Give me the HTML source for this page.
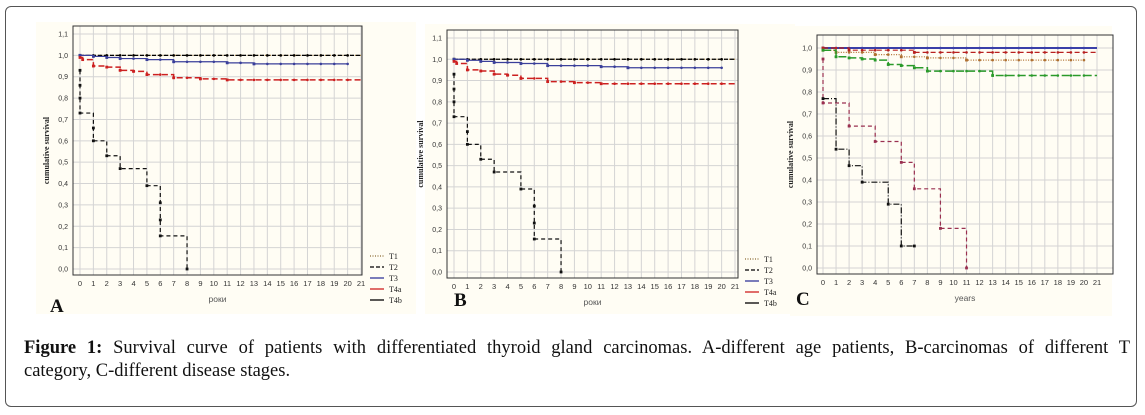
<!DOCTYPE html>
<html><head><meta charset="utf-8"><style>
body{margin:0;background:#fff;width:1145px;height:415px;overflow:hidden;font-family:"Liberation Serif",serif}
#frame{position:absolute;left:5px;top:6px;width:1132px;height:401px;border:1.5px solid #555;border-radius:6px;box-sizing:border-box}
#cap{position:absolute;left:24px;top:337px;width:1106px;font-size:18.5px;line-height:23px;color:#111}
#cap .l1{display:block;text-align:justify;text-align-last:justify;white-space:nowrap}
svg{position:absolute;left:0;top:0}
</style></head><body>
<div id="frame"></div>
<svg id="s" width="1145" height="415"></svg>
<div id="cap"><span class="l1"><b>Figure 1:</b> Survival curve of patients with differentiated thyroid gland carcinomas. A-different age patients, B-carcinomas of different T</span>category, C-different disease stages.</div>
<script>
// ----- data -----
const xTicks=[0,1,2,3,4,5,6,7,8,9,10,11,12,13,14,15,16,17,18,19,20,21];
const yTicksAB=["0,0","0,1","0,2","0,3","0,4","0,5","0,6","0,7","0,8","0,9","1,0","1,1"];
const yTicksC=["0,0","0,1","0,2","0,3","0,4","0,5","0,6","0,7","0,8","0,9","1,0"];
const legendLabels=["T1","T2","T3","T4a","T4b"];
// step series: times and survival
const abT1t=[0,21],abT1v=[1,1];
const abT2t=[0,21],abT2v=[1,1];
const abT3t=[0,1,2,3,5,7,11,13,20],abT3v=[1,0.995,0.99,0.985,0.98,0.97,0.965,0.96,0.96];
const abT4at=[0,0.2,1,2,3,4,5,7,9,11,21],abT4av=[0.99,0.98,0.95,0.945,0.93,0.925,0.91,0.895,0.89,0.885,0.885];
const abT4bt=[0,0,0,0,1,1,2,3,5,6,6,6,8],abT4bv=[0.93,0.86,0.8,0.73,0.66,0.6,0.53,0.47,0.39,0.31,0.23,0.155,0];
const cBlueT=[0,21],cBlueV=[1,1];
const cRedT=[0,2,7,21],cRedV=[1,0.99,0.98,0.975];
const cOrT=[0,1,4,6,8,11,20],cOrV=[0.99,0.98,0.97,0.96,0.955,0.945,0.945];
const cGrT=[0,1,2,3,4,5,6,7,8,13,21],cGrV=[0.99,0.96,0.955,0.95,0.945,0.925,0.92,0.91,0.895,0.875,0.875];
const cPuT=[0,0,2,4,6,7,9,11],cPuV=[0.95,0.75,0.645,0.575,0.48,0.36,0.18,0];
const cBkT=[0,1,2,3,5,6,7],cBkV=[0.77,0.54,0.465,0.39,0.29,0.1,0.1];

const NS="http://www.w3.org/2000/svg",S=document.getElementById('s');
function el(t,a,p){const e=document.createElementNS(NS,t);for(const k in a)e.setAttribute(k,a[k]);(p||S).appendChild(e);return e;}

function panel(P){
 const g=el('g',{});
 
 
 el('rect',{x:P.bx,y:P.by,width:P.bw,height:P.bh,fill:'#fffdf4'},g);
 const X=v=>P.x0+(P.x21-P.x0)*v/21, Y=v=>P.y0-(P.y0-P.y1)*v/P.ymaxTick;
 xTicks.forEach(t=>{el('line',{x1:X(t),x2:X(t),y1:P.top,y2:P.bot,stroke:'#d4d4d4','stroke-width':1},g);
  const tx=el('text',{x:X(t),y:P.bot+11,'font-size':7.5,'text-anchor':'middle','font-family':'Liberation Sans',fill:'#333'},g);tx.textContent=t;
  });
 P.yt.forEach((l,i)=>{const v=i*0.1;el('line',{x1:P.left,x2:P.right,y1:Y(v),y2:Y(v),stroke:'#d4d4d4'},g);
  const tx=el('text',{x:P.left-5,y:Y(v)+2.5,'font-size':7,'text-anchor':'end','font-family':'Liberation Sans',fill:'#333'},g);tx.textContent=l;
  });
 el('rect',{x:P.left,y:P.top,width:P.right-P.left,height:P.bot-P.top,fill:'none',stroke:'#333','stroke-width':1},g);
 const yl=el('text',{transform:`translate(${P.left-24},${(P.top+P.bot)/2}) rotate(-90)`,'font-size':8,'font-weight':'bold','text-anchor':'middle',fill:'#222'},g);
 yl.textContent='cumulative survival';
 const xl=el('text',{x:(P.left+P.right)/2,y:P.bot+27,'font-size':8.5,'text-anchor':'middle','font-family':'Liberation Sans',fill:'#555'},g);
 xl.textContent=P.xlab;
 const pl=el('text',{x:P.lx,y:P.ly,'font-size':19,'font-weight':'bold',fill:'#111'},g);
 pl.textContent=P.letter;
 P.series.forEach(s=>{
  let d='M'+X(s.t[0])+' '+Y(s.v[0]);
  for(let i=1;i<s.t.length;i++){d+=' H'+X(s.t[i])+' V'+Y(s.v[i]);}
  const p=el('path',{d:d,fill:'none',stroke:s.c,'stroke-width':s.w||1.2,'stroke-dasharray':s.dash||'none'},g);
  
  const n=s.mk?s.t.length-1:s.t.length;
  for(let i=0;i<n;i++){const m=el('rect',{x:X(s.t[i])-1.4,y:Y(s.v[i])-1.4,width:2.8,height:2.8,fill:s.c},g);
   }
  if(s.mk){for(let t=1;t<=20;t++){const tv=s.t.filter(x=>x<=t).length-1;if(tv>=0&&t<=s.t[s.t.length-1]){const m=el('circle',{cx:X(t),cy:Y(s.v[tv]),r:1.3,fill:s.c},g);
   }}}
 });
 if(P.legend){legendLabels.forEach((l,i)=>{const y=P.legY+i*11,c=['#8a6a30','#000','#33379a','#d02020','#000'][i],da=['1,1.5','4,2','none','none','none'][i];
  const li=el('g',{},g);
  el('line',{x1:P.legX,x2:P.legX+14,y1:y,y2:y,stroke:c,'stroke-width':1.3,'stroke-dasharray':da},li);
  const t=el('text',{x:P.legX+19,y:y+3,'font-size':8,fill:'#222'},li);t.textContent=l;});}
}
function abSeries(){return[
 {n:'t1',t:abT1t,v:abT1v,c:'#9a7a40',dash:'1,1.5',mk:1},
 {n:'t2',t:abT2t,v:abT2v,c:'#000',dash:'4,2',mk:1},
 {n:'t3',t:abT3t,v:abT3v,c:'#3a3f9a',mk:1},
 {n:'t4a',t:abT4at,v:abT4av,c:'#cc2020',dash:'6,3',w:1.5,mk:1},
 {n:'t4b',t:abT4bt,v:abT4bv,c:'#111',dash:'4,3'}];}
panel({name:'panel-a',bx:36,by:22,bw:380,bh:292,left:73,right:362,top:26,bot:275,x0:80,x21:361,y0:269,y1:34,ymaxTick:1.1,yt:yTicksAB,xlab:'роки',letter:'A',lx:50,ly:312,series:abSeries(),legend:1,legX:370,legY:256});
panel({name:'panel-b',bx:425,by:24,bw:370,bh:290,left:447,right:738,top:30,bot:278,x0:454,x21:735,y0:272,y1:38,ymaxTick:1.1,yt:yTicksAB,xlab:'роки',letter:'B',lx:454,ly:306,series:abSeries(),legend:1,legX:745,legY:259});
panel({name:'panel-c',bx:790,by:26,bw:322,bh:290,left:817,right:1113,top:35,bot:274,x0:823,x21:1097,y0:268,y1:48,ymaxTick:1.0,yt:yTicksC,xlab:'years',letter:'C',lx:796,ly:305,series:[
 {n:'blue',t:cBlueT,v:cBlueV,c:'#3a3fa8',w:2,mk:1},
 {n:'red',t:cRedT,v:cRedV,c:'#b82020',dash:'5,3',mk:1},
 {n:'orange',t:cOrT,v:cOrV,c:'#b07030',dash:'1,1.5',mk:1},
 {n:'green',t:cGrT,v:cGrV,c:'#2a9a2a',dash:'8,3',w:1.5,mk:1},
 {n:'purple',t:cPuT,v:cPuV,c:'#9a3050',dash:'4,3'},
 {n:'black',t:cBkT,v:cBkV,c:'#111',dash:'6,2,1,2'}]});
</script>
</body></html>
